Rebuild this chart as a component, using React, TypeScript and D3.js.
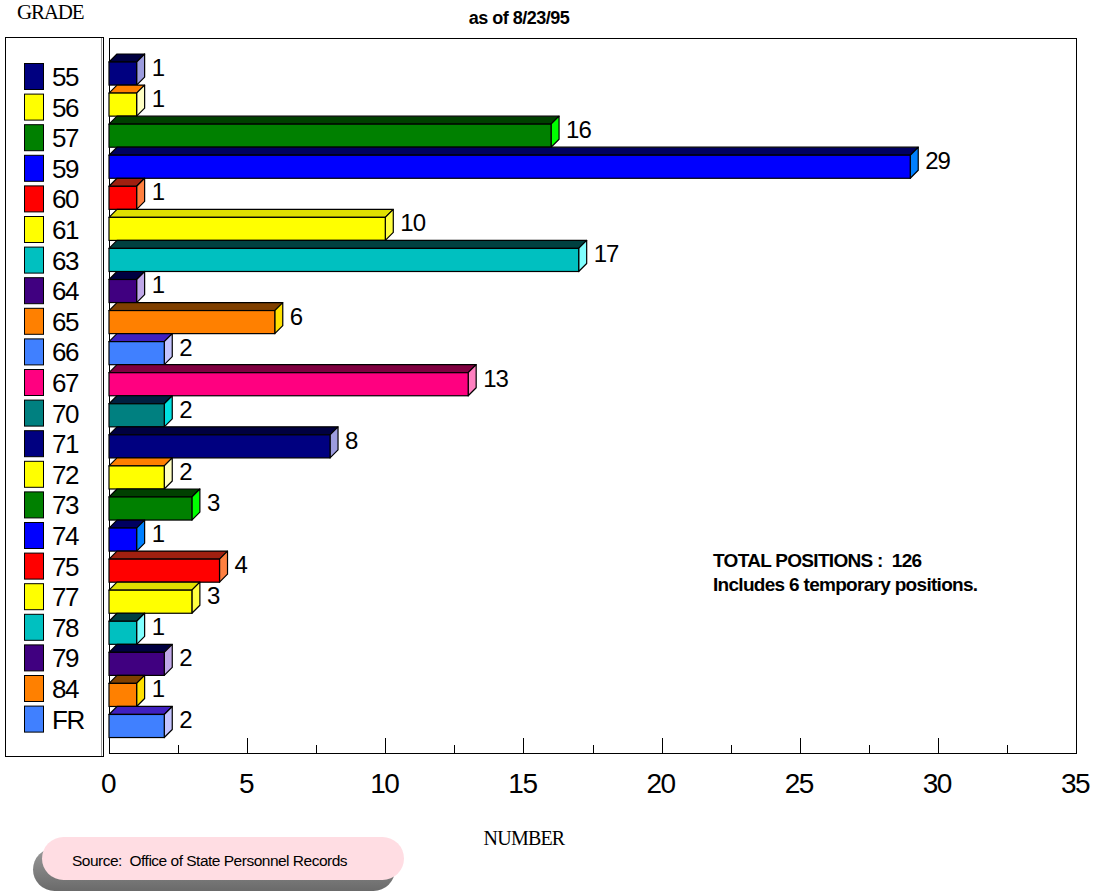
import { useEffect, useRef } from 'react';
import * as d3 from 'd3';

// grades and head counts
const grades = ['55', '56', '57', '59', '60', '61', '63', '64', '65', '66', '67', '70',
  '71', '72', '73', '74', '75', '77', '78', '79', '84', 'FR'];
const counts = [1, 1, 16, 29, 1, 10, 17, 1, 6, 2, 13, 2, 8, 2, 3, 1, 4, 3, 1, 2, 1, 2];
const xTicks = [0, 5, 10, 15, 20, 25, 30, 35];

// front / top / side colours, cycling every 12 grades
const palette = [
  { front: '#000080', top: '#000040', side: '#9c9cde' },
  { front: '#ffff00', top: '#ff8000', side: '#ffffc4' },
  { front: '#008000', top: '#004000', side: '#00ff00' },
  { front: '#0000ff', top: '#000060', side: '#0080ff' },
  { front: '#ff0000', top: '#a02010', side: '#ff8040' },
  { front: '#ffff00', top: '#e0e000', side: '#ffff40' },
  { front: '#00c0c0', top: '#004040', side: '#80ffff' },
  { front: '#400080', top: '#000040', side: '#c0a8e8' },
  { front: '#ff8000', top: '#804000', side: '#ffe000' },
  { front: '#4080ff', top: '#4020c0', side: '#c4c4ff' },
  { front: '#ff0080', top: '#800040', side: '#ff80c0' },
  { front: '#008080', top: '#002040', side: '#00e0e0' },
];

const SANS = 'Liberation Sans, Arial, sans-serif';
const SERIF = 'Liberation Serif, Times New Roman, serif';

const App = () => {
  const ref = useRef(null);

  useEffect(() => {
    const width = 1095;
    const height = 894;
    const depth = 8;

    const svg = d3.select(ref.current)
      .attr('width', width)
      .attr('height', height)
      .style('position', 'absolute')
      .style('left', 0)
      .style('top', 0);
    svg.selectAll('*').remove();

    svg.append('rect').attr('width', width).attr('height', height).attr('fill', '#fff');

    const plot = { left: 109, right: 1076, top: 38, bottom: 753 };

    const x = d3.scaleLinear().domain([0, 35]).range([plot.left, 1076]);
    const y = d3.scaleBand().domain(grades).range([54, 54 + 31.07 * grades.length]).padding(0);
    const frontH = y.bandwidth() - depth;

    // headings
    svg.append('text').text('GRADE')
      .attr('x', 17).attr('y', 19)
      .attr('font-family', SERIF).attr('font-size', 21)
      .attr('letter-spacing', -1.2);
    svg.append('text').text('as of 8/23/95')
      .attr('x', 519).attr('y', 24).attr('text-anchor', 'middle')
      .attr('font-family', SANS).attr('font-size', 18).attr('font-weight', 'bold')
      .attr('letter-spacing', -0.5);
    svg.append('text').text('NUMBER')
      .attr('x', 524).attr('y', 845).attr('text-anchor', 'middle')
      .attr('font-family', SERIF).attr('font-size', 20)
      .attr('letter-spacing', -0.8);

    // legend box
    svg.append('rect')
      .attr('x', 5.5).attr('y', 37.5).attr('width', 98).attr('height', 719)
      .attr('fill', 'none').attr('stroke', '#000');
    svg.append('line')
      .attr('x1', 101.5).attr('x2', 101.5).attr('y1', 38).attr('y2', 756)
      .attr('stroke', '#999');

    const leg = svg.selectAll('.leg')
      .data(grades)
      .join('g')
      .attr('class', 'leg')
      .attr('transform', (d, i) => `translate(0,${63 + i * 30.6})`);
    leg.append('rect')
      .attr('x', 24.5).attr('y', 0.5).attr('width', 19).attr('height', 26)
      .attr('fill', (d, i) => palette[i % 12].front)
      .attr('stroke', '#000');
    leg.append('text')
      .text((d) => d)
      .attr('x', 52).attr('y', 23)
      .attr('font-family', SANS).attr('font-size', 26)
      .attr('letter-spacing', -1.5);

    // plot frame
    svg.append('rect')
      .attr('x', plot.left + 0.5).attr('y', plot.top + 0.5)
      .attr('width', plot.right - plot.left).attr('height', plot.bottom - plot.top)
      .attr('fill', 'none').attr('stroke', '#000');

    // ticks (major + minor), pointing up from axis
    const minor = d3.range(2.5, 35, 5);
    svg.selectAll('.tmaj')
      .data(xTicks.slice(1, -1))
      .join('line')
      .attr('x1', (d) => Math.round(x(d)) + 0.5).attr('x2', (d) => Math.round(x(d)) + 0.5)
      .attr('y1', plot.bottom - 15).attr('y2', plot.bottom)
      .attr('stroke', '#000');
    svg.selectAll('.tmin')
      .data(minor)
      .join('line')
      .attr('x1', (d) => Math.round(x(d)) + 0.5).attr('x2', (d) => Math.round(x(d)) + 0.5)
      .attr('y1', plot.bottom - 8).attr('y2', plot.bottom)
      .attr('stroke', '#000');
    svg.selectAll('.tlab')
      .data(xTicks)
      .join('text')
      .text((d) => d)
      .attr('x', (d) => x(d) - 1).attr('y', 793)
      .attr('text-anchor', 'middle')
      .attr('font-family', SANS).attr('font-size', 28)
      .attr('letter-spacing', -1.5);

    // 3d bars
    const bars = svg.selectAll('.bar')
      .data(counts)
      .join('g')
      .attr('class', 'bar');

    bars.append('path')
      .attr('d', (d, i) => {
        const x0 = x(0), x1 = x(d), t = y(grades[i]) + depth;
        return `M${x0},${t}L${x0 + depth},${t - depth}L${x1 + depth},${t - depth}L${x1},${t}Z`;
      })
      .attr('fill', (d, i) => palette[i % 12].top)
      .attr('stroke', '#000').attr('stroke-width', 1.2).attr('stroke-linejoin', 'round');

    bars.append('path')
      .attr('d', (d, i) => {
        const x1 = x(d), t = y(grades[i]) + depth;
        return `M${x1},${t}L${x1 + depth},${t - depth}L${x1 + depth},${t - depth + frontH}L${x1},${t + frontH}Z`;
      })
      .attr('fill', (d, i) => palette[i % 12].side)
      .attr('stroke', '#000').attr('stroke-width', 1.2).attr('stroke-linejoin', 'round');

    bars.append('rect')
      .attr('x', x(0))
      .attr('y', (d, i) => y(grades[i]) + depth)
      .attr('width', (d) => x(d) - x(0))
      .attr('height', frontH)
      .attr('fill', (d, i) => palette[i % 12].front)
      .attr('stroke', '#000').attr('stroke-width', 1.2);

    bars.append('text')
      .text((d) => d)
      .attr('x', (d) => x(d) + depth + 7)
      .attr('y', (d, i) => y(grades[i]) + depth + 14)
      .attr('font-family', SANS).attr('font-size', 24)
      .attr('letter-spacing', -1);

    // annotation
    const note = svg.append('g')
      .attr('font-family', SANS).attr('font-size', 19).attr('font-weight', 'bold')
      .attr('letter-spacing', -0.7);
    note.append('text').text('TOTAL POSITIONS :  126').attr('x', 713).attr('y', 567)
      .style('white-space', 'pre');
    note.append('text').text('Includes 6 temporary positions.').attr('x', 713).attr('y', 591);

    // source pill with shadow
    const defs = svg.append('defs');
    const grad = defs.append('linearGradient').attr('id', 'shadowGrad')
      .attr('x1', 0).attr('y1', 0).attr('x2', 0).attr('y2', 1);
    grad.append('stop').attr('offset', '0%').attr('stop-color', '#9a9a9a');
    grad.append('stop').attr('offset', '100%').attr('stop-color', '#6a6a6a');

    svg.append('rect')
      .attr('x', 33).attr('y', 848).attr('width', 362).attr('height', 43).attr('rx', 21.5)
      .attr('fill', 'url(#shadowGrad)');
    svg.append('rect')
      .attr('x', 42).attr('y', 837).attr('width', 362).attr('height', 43).attr('rx', 21.5)
      .attr('fill', '#ffdde3');
    svg.append('text').text('Source:  Office of State Personnel Records')
      .attr('x', 72).attr('y', 866)
      .style('white-space', 'pre')
      .attr('font-family', SANS).attr('font-size', 15.5)
      .attr('letter-spacing', -0.5);
  }, []);

  return (
    <div>
      <svg ref={ref}></svg>
    </div>
  );
};

export default App;
